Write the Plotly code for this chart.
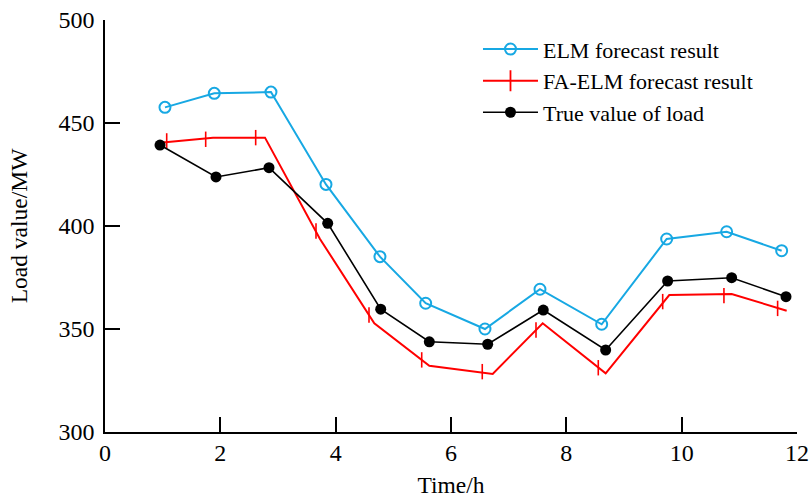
import plotly.graph_objects as go

# ---- data ----
true_x = [0.954, 1.925, 2.844, 3.862, 4.781, 5.624, 6.636, 7.600, 8.682, 9.757, 10.867, 11.809]
true_y = [439.3, 423.8, 428.3, 401.3, 359.6, 343.8, 342.6, 359.2, 339.8, 373.3, 374.9, 365.7]

elm_x = [1.040, 1.895, 2.878, 3.832, 4.768, 5.561, 6.589, 7.543, 8.613, 9.740, 10.780, 11.734]
elm_y = [457.6, 464.4, 465.0, 420.2, 385.1, 362.5, 350.0, 369.3, 352.3, 393.7, 397.2, 388.0]

fa_x = [0.954, 1.873, 2.774, 3.728, 4.670, 5.624, 6.723, 7.590, 8.682, 9.785, 10.867, 11.821]
fa_y = [440.4, 442.9, 442.9, 393.7, 352.8, 332.2, 328.2, 352.8, 328.5, 366.5, 367.0, 358.9]

fa_marker_x = [1.070, 1.746, 2.613, 3.659, 4.578, 5.492, 6.542, 7.474, 8.554, 9.671, 10.733, 11.664]
fa_marker_y = [441.3, 442.1, 442.9, 397.6, 356.8, 335.0, 329.3, 349.5, 331.2, 363.3, 366.2, 360.0]

x_ticks = [0, 2, 4, 6, 8, 10, 12]
y_ticks = [300, 350, 400, 450, 500]

names = ["ELM forecast result", "FA-ELM forecast result", "True value of load"]

BLUE = "#17A8E3"
RED = "#FF0000"
BLACK = "#000000"
FONT = "Liberation Serif"

fig = go.Figure()

# ELM
fig.add_trace(go.Scatter(
    x=elm_x, y=elm_y, mode="lines+markers", name=names[0],
    line=dict(color=BLUE, width=2),
    marker=dict(symbol="circle-open", size=11, color=BLUE, line=dict(width=2, color=BLUE)),
    legendrank=1, legendgroup="a",
))

# FA-ELM line and offset markers
fig.add_trace(go.Scatter(
    x=fa_x, y=fa_y, mode="lines", showlegend=False,
    line=dict(color=RED, width=2), legendgroup="b",
))
fig.add_trace(go.Scatter(
    x=fa_marker_x, y=fa_marker_y, mode="markers", showlegend=False,
    marker=dict(symbol="line-ns", size=11, color=RED, line=dict(width=1.6, color=RED)),
    legendgroup="b",
))
fig.add_trace(go.Scatter(
    x=[None], y=[None], mode="lines+markers", name=names[1],
    line=dict(color=RED, width=2),
    marker=dict(symbol="line-ns", size=15, color=RED, line=dict(width=1.8, color=RED)),
    legendrank=2, legendgroup="b",
))

# True value
fig.add_trace(go.Scatter(
    x=true_x, y=true_y, mode="lines+markers", name=names[2],
    line=dict(color=BLACK, width=1.6),
    marker=dict(symbol="circle", size=11, color=BLACK),
    legendrank=3, legendgroup="c",
))

axis_common = dict(
    showline=True, linecolor="black", linewidth=1.5,
    showgrid=False, zeroline=False, automargin=False,
    ticks="inside", ticklen=15, tickwidth=1.5, tickcolor="black",
    tickfont=dict(family=FONT, size=24, color="black"),
)

fig.update_layout(
    width=812, height=500,
    margin=dict(l=105, r=15, t=20, b=68),
    paper_bgcolor="white", plot_bgcolor="white",
    font=dict(family=FONT, color="black"),
    xaxis=dict(range=[0, 12], tickvals=x_ticks, **axis_common, ticklabelstandoff=-2,
               title=dict(text="Time/h", font=dict(family=FONT, size=23.5), standoff=12)),
    yaxis=dict(range=[300, 500], tickvals=y_ticks, **axis_common, ticklabelstandoff=4,
               title=dict(text="Load value/MW", font=dict(family=FONT, size=23.5), standoff=24)),
    legend=dict(x=0.539, y=0.98, xanchor="left", yanchor="top",
                bgcolor="rgba(0,0,0,0)", borderwidth=0,
                font=dict(family=FONT, size=22, color="black"),
                itemwidth=55, tracegroupgap=0, traceorder="grouped"),
    showlegend=True,
)

fig.write_html("out.html")
